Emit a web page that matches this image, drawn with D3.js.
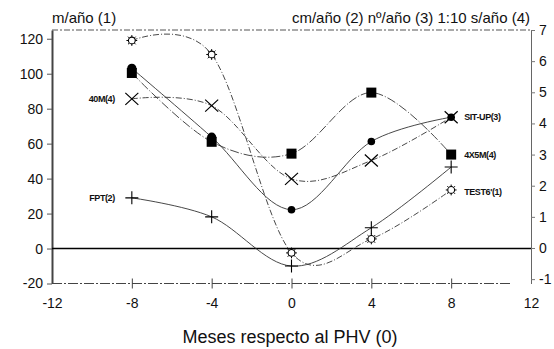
<!DOCTYPE html>
<html>
<head>
<meta charset="utf-8">
<script src="https://cdn.jsdelivr.net/npm/d3@7"></script>
<style>
  body { margin: 0; background: #fff; }
  svg { display: block; font-family: "Liberation Sans", Arial, sans-serif; }
  .tick-label { font-size: 14px; fill: #111; }
  .series-label { font-size: 9px; font-weight: bold; fill: #111; letter-spacing: -0.4px; }
</style>
</head>
<body>
<div id="chart"></div>
<script>
// months relative to PHV
const months = [-8, -4, 0, 4, 8];
// TEST6' (1) in m/año (left axis)
const test6 = [119, 111, -2.5, 5.5, 33.5];
// FPT (2) in cm/año (right axis)
const fpt = [1.61, 1.0, -0.58, 0.65, 2.6];
// SIT-UP (3) in nº/año (right axis)
const situp = [5.77, 3.56, 1.23, 3.42, 4.2];
// 4X5M (4) in 1:10 s/año (right axis)
const x5m = [5.62, 3.41, 3.03, 4.99, 3.0];
// 40M (4) in 1:10 s/año (right axis)
const m40 = [4.79, 4.57, 2.22, 2.81, 4.2];

const xTicks = [-12, -8, -4, 0, 4, 8, 12];
const leftTicks = [-20, 0, 20, 40, 60, 80, 100, 120];
const rightTicks = [-1, 0, 1, 2, 3, 4, 5, 6, 7];

const width = 554, height = 349;
const svg = d3.select('#chart').append('svg')
  .attr('width', width)
  .attr('height', height);

const x = d3.scaleLinear().domain([-12, 12]).range([52, 531]);
const yL = d3.scaleLinear().domain([-20, 125]).range([283.5, 30]);
const yR = d3.scaleLinear().domain([-1.14, 7]).range([283.5, 30]);

const fmt = d => String(d); // plain hyphen, as in the original

// frame: top dashed line, bottom dash-dot line
svg.append('line')
  .attr('x1', x(-12)).attr('x2', x(12))
  .attr('y1', 30).attr('y2', 30)
  .attr('stroke', '#555').attr('stroke-width', 1)
  .attr('stroke-dasharray', '6,2,2,2');

svg.append('line')
  .attr('x1', x(-12)).attr('x2', x(11))
  .attr('y1', yL(-20)).attr('y2', yL(-20))
  .attr('stroke', '#444').attr('stroke-width', 1)
  .attr('stroke-dasharray', '10,2,2,2');

// left axis
const leftAxis = svg.append('g')
  .attr('transform', 'translate(' + x(-12) + ',0)')
  .call(d3.axisLeft(yL).tickValues(leftTicks).tickFormat(fmt).tickSize(5).tickSizeOuter(0).tickPadding(4));
leftAxis.select('.domain').attr('stroke', '#444').attr('stroke-width', 2);
leftAxis.selectAll('.tick line').attr('stroke', '#555');
leftAxis.selectAll('.tick text').attr('class', 'tick-label').attr('font-size', null).attr('font-family', null);

// right axis
const rightAxis = svg.append('g')
  .attr('transform', 'translate(' + x(12) + ',0)')
  .call(d3.axisRight(yR).tickValues(rightTicks).tickFormat(fmt).tickSize(4).tickSizeOuter(0).tickPadding(4));
rightAxis.select('.domain').attr('stroke', '#666').attr('stroke-width', 1);
rightAxis.selectAll('.tick line').attr('stroke', '#777');
rightAxis.selectAll('.tick text').attr('class', 'tick-label').attr('font-size', null).attr('font-family', null);

// bottom axis (ticks cross the line)
const bottomAxis = svg.append('g')
  .attr('transform', 'translate(0,' + yL(-20) + ')')
  .call(d3.axisBottom(x).tickValues(xTicks).tickFormat(fmt).tickSize(5).tickSizeOuter(0).tickPadding(10));
bottomAxis.select('.domain').remove();
bottomAxis.selectAll('.tick line')
  .attr('y1', -5)
  .attr('stroke', '#444')
  .attr('display', d => (d === -12 || d === 12) ? 'none' : null);
bottomAxis.selectAll('.tick text').attr('class', 'tick-label').attr('font-size', null).attr('font-family', null);

// zero line
svg.append('line')
  .attr('x1', x(-12)).attr('x2', x(12))
  .attr('y1', yL(0)).attr('y2', yL(0))
  .attr('stroke', '#000').attr('stroke-width', 1.6);

// headers
svg.append('text')
  .attr('x', 52).attr('y', 23)
  .attr('font-size', 15).attr('fill', '#111')
  .text('m/año (1)');
svg.append('text')
  .attr('x', 530).attr('y', 23)
  .attr('text-anchor', 'end')
  .attr('font-size', 15).attr('fill', '#111')
  .text('cm/año (2) nº/año (3) 1:10 s/año (4)');

svg.append('text')
  .attr('x', 290).attr('y', 343)
  .attr('text-anchor', 'middle')
  .attr('font-size', 18).attr('fill', '#111')
  .text('Meses respecto al PHV (0)');

// series
const series = [
  { name: "TEST6'(1)", values: test6, y: yL, marker: 'sun', dash: '6,2,1,2' },
  { name: 'FPT(2)', values: fpt, y: yR, marker: 'plus', dash: null },
  { name: 'SIT-UP(3)', values: situp, y: yR, marker: 'dot', dash: null },
  { name: '4X5M(4)', values: x5m, y: yR, marker: 'square', dash: '9,2,1,2' },
  { name: '40M(4)', values: m40, y: yR, marker: 'cross', dash: '6,2,1,2' },
];

const line = d3.line().curve(d3.curveCardinal.tension(0));

series.forEach(s => {
  const pts = months.map((m, i) => [x(m), s.y(s.values[i])]);
  svg.append('path')
    .attr('d', line(pts))
    .attr('fill', 'none')
    .attr('stroke', '#333')
    .attr('stroke-width', 0.9)
    .attr('stroke-dasharray', s.dash);
});

// markers
series.forEach(s => {
  const g = svg.append('g');
  months.forEach((m, i) => {
    const cx = x(m), cy = s.y(s.values[i]);
    const mg = g.append('g').attr('transform', 'translate(' + cx + ',' + cy + ')');
    if (s.marker === 'dot') {
      mg.append('circle').attr('r', i < 2 ? 4.6 : 3.8).attr('fill', '#000');
    } else if (s.marker === 'square') {
      mg.append('rect').attr('x', -5).attr('y', -5).attr('width', 10).attr('height', 10).attr('fill', '#000');
    } else if (s.marker === 'cross') {
      mg.append('path').attr('d', 'M-6.5,-6L6.5,6M-6.5,6L6.5,-6')
        .attr('stroke', '#000').attr('stroke-width', 1.2).attr('fill', 'none');
    } else if (s.marker === 'plus') {
      mg.append('path').attr('d', 'M-6.5,0L6.5,0M0,-6.5L0,6.5')
        .attr('stroke', '#000').attr('stroke-width', 1.1).attr('fill', 'none');
    } else if (s.marker === 'sun') {
      const rays = d3.range(8).map(k => {
        const a = k * Math.PI / 4;
        return 'M' + (3.4 * Math.cos(a)) + ',' + (3.4 * Math.sin(a)) +
          'L' + (5.4 * Math.cos(a)) + ',' + (5.4 * Math.sin(a));
      }).join('');
      mg.append('path').attr('d', rays).attr('stroke', '#000').attr('stroke-width', 1);
      mg.append('circle').attr('r', 3.4).attr('fill', '#fff').attr('stroke', '#000').attr('stroke-width', 1.1);
    }
  });
});

// series labels
const labels = [
  { text: '40M(4)', s: 4, idx: 0, side: 'left' },
  { text: 'FPT(2)', s: 1, idx: 0, side: 'left' },
  { text: 'SIT-UP(3)', s: 2, idx: 4, side: 'right' },
  { text: '4X5M(4)', s: 3, idx: 4, side: 'right' },
  { text: "TEST6'(1)", s: 0, idx: 4, side: 'right' },
];
labels.forEach(l => {
  const s = series[l.s];
  const px = x(months[l.idx]);
  const py = s.y(s.values[l.idx]);
  svg.append('text')
    .attr('class', 'series-label')
    .attr('x', l.side === 'left' ? px - 17 : px + 13)
    .attr('y', py + (l.text.startsWith('TEST') ? 5 : 3))
    .attr('text-anchor', l.side === 'left' ? 'end' : 'start')
    .text(l.text);
});
</script>
</body>
</html>
